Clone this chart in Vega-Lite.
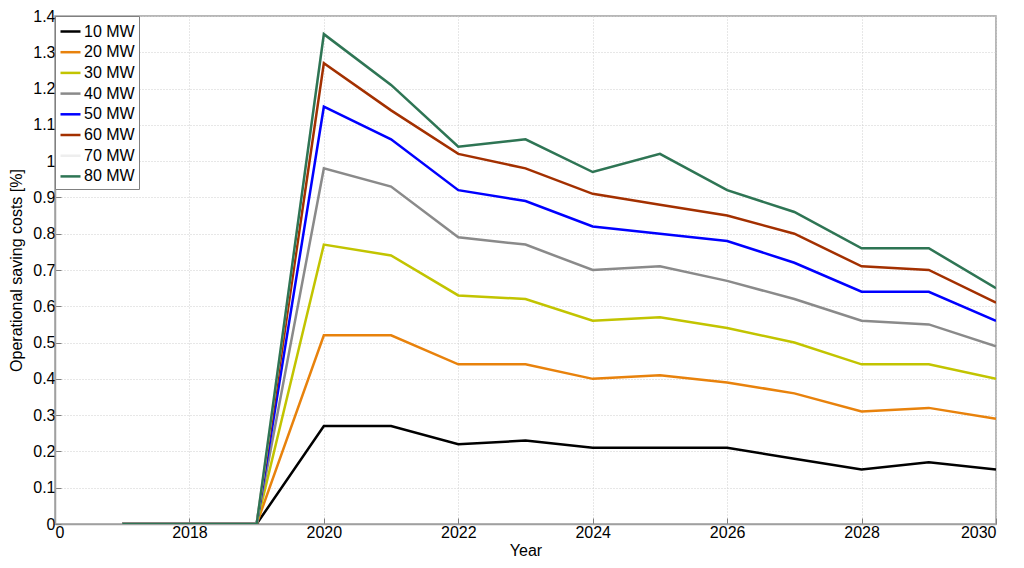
{
  "$schema": "https://vega.github.io/schema/vega-lite/v6.json",
  "autosize": "none",
  "width": 941,
  "height": 508,
  "padding": {"left": 55, "top": 16, "right": 28, "bottom": 44},
  "background": "white",
  "config": {
    "font": "Liberation Sans",
    "view": {"stroke": "#a0a0a0", "strokeWidth": 1.5},
    "axis": {
      "labelFont": "Liberation Sans",
      "titleFont": "Liberation Sans",
      "labelFontSize": 16,
      "titleFontSize": 16,
      "titleFontWeight": "normal",
      "labelColor": "#000000",
      "titleColor": "#000000",
      "domainColor": "#a0a0a0",
      "domainWidth": 1.5,
      "tickColor": "#808080",
      "tickSize": -6,
      "gridColor": "#cfcfcf",
      "gridDash": [1, 2],
      "gridWidth": 1
    }
  },
  "data": {
    "values": [
      {"year": 2017, "series": "10 MW", "value": 0}, {"year": 2018, "series": "10 MW", "value": 0}, {"year": 2019, "series": "10 MW", "value": 0},
      {"year": 2020, "series": "10 MW", "value": 0.27}, {"year": 2021, "series": "10 MW", "value": 0.27}, {"year": 2022, "series": "10 MW", "value": 0.22},
      {"year": 2023, "series": "10 MW", "value": 0.23}, {"year": 2024, "series": "10 MW", "value": 0.21}, {"year": 2025, "series": "10 MW", "value": 0.21},
      {"year": 2026, "series": "10 MW", "value": 0.21}, {"year": 2027, "series": "10 MW", "value": 0.18}, {"year": 2028, "series": "10 MW", "value": 0.15},
      {"year": 2029, "series": "10 MW", "value": 0.17}, {"year": 2030, "series": "10 MW", "value": 0.15},

      {"year": 2017, "series": "20 MW", "value": 0}, {"year": 2018, "series": "20 MW", "value": 0}, {"year": 2019, "series": "20 MW", "value": 0},
      {"year": 2020, "series": "20 MW", "value": 0.52}, {"year": 2021, "series": "20 MW", "value": 0.52}, {"year": 2022, "series": "20 MW", "value": 0.44},
      {"year": 2023, "series": "20 MW", "value": 0.44}, {"year": 2024, "series": "20 MW", "value": 0.40}, {"year": 2025, "series": "20 MW", "value": 0.41},
      {"year": 2026, "series": "20 MW", "value": 0.39}, {"year": 2027, "series": "20 MW", "value": 0.36}, {"year": 2028, "series": "20 MW", "value": 0.31},
      {"year": 2029, "series": "20 MW", "value": 0.32}, {"year": 2030, "series": "20 MW", "value": 0.29},

      {"year": 2017, "series": "30 MW", "value": 0}, {"year": 2018, "series": "30 MW", "value": 0}, {"year": 2019, "series": "30 MW", "value": 0},
      {"year": 2020, "series": "30 MW", "value": 0.77}, {"year": 2021, "series": "30 MW", "value": 0.74}, {"year": 2022, "series": "30 MW", "value": 0.63},
      {"year": 2023, "series": "30 MW", "value": 0.62}, {"year": 2024, "series": "30 MW", "value": 0.56}, {"year": 2025, "series": "30 MW", "value": 0.57},
      {"year": 2026, "series": "30 MW", "value": 0.54}, {"year": 2027, "series": "30 MW", "value": 0.50}, {"year": 2028, "series": "30 MW", "value": 0.44},
      {"year": 2029, "series": "30 MW", "value": 0.44}, {"year": 2030, "series": "30 MW", "value": 0.40},

      {"year": 2017, "series": "40 MW", "value": 0}, {"year": 2018, "series": "40 MW", "value": 0}, {"year": 2019, "series": "40 MW", "value": 0},
      {"year": 2020, "series": "40 MW", "value": 0.98}, {"year": 2021, "series": "40 MW", "value": 0.93}, {"year": 2022, "series": "40 MW", "value": 0.79},
      {"year": 2023, "series": "40 MW", "value": 0.77}, {"year": 2024, "series": "40 MW", "value": 0.70}, {"year": 2025, "series": "40 MW", "value": 0.71},
      {"year": 2026, "series": "40 MW", "value": 0.67}, {"year": 2027, "series": "40 MW", "value": 0.62}, {"year": 2028, "series": "40 MW", "value": 0.56},
      {"year": 2029, "series": "40 MW", "value": 0.55}, {"year": 2030, "series": "40 MW", "value": 0.49},

      {"year": 2017, "series": "50 MW", "value": 0}, {"year": 2018, "series": "50 MW", "value": 0}, {"year": 2019, "series": "50 MW", "value": 0},
      {"year": 2020, "series": "50 MW", "value": 1.15}, {"year": 2021, "series": "50 MW", "value": 1.06}, {"year": 2022, "series": "50 MW", "value": 0.92},
      {"year": 2023, "series": "50 MW", "value": 0.89}, {"year": 2024, "series": "50 MW", "value": 0.82}, {"year": 2025, "series": "50 MW", "value": 0.80},
      {"year": 2026, "series": "50 MW", "value": 0.78}, {"year": 2027, "series": "50 MW", "value": 0.72}, {"year": 2028, "series": "50 MW", "value": 0.64},
      {"year": 2029, "series": "50 MW", "value": 0.64}, {"year": 2030, "series": "50 MW", "value": 0.56},

      {"year": 2017, "series": "60 MW", "value": 0}, {"year": 2018, "series": "60 MW", "value": 0}, {"year": 2019, "series": "60 MW", "value": 0},
      {"year": 2020, "series": "60 MW", "value": 1.27}, {"year": 2021, "series": "60 MW", "value": 1.14}, {"year": 2022, "series": "60 MW", "value": 1.02},
      {"year": 2023, "series": "60 MW", "value": 0.98}, {"year": 2024, "series": "60 MW", "value": 0.91}, {"year": 2025, "series": "60 MW", "value": 0.88},
      {"year": 2026, "series": "60 MW", "value": 0.85}, {"year": 2027, "series": "60 MW", "value": 0.80}, {"year": 2028, "series": "60 MW", "value": 0.71},
      {"year": 2029, "series": "60 MW", "value": 0.70}, {"year": 2030, "series": "60 MW", "value": 0.61},

      {"year": 2017, "series": "70 MW", "value": 0}, {"year": 2018, "series": "70 MW", "value": 0}, {"year": 2019, "series": "70 MW", "value": 0},
      {"year": 2020, "series": "70 MW", "value": 1.35}, {"year": 2021, "series": "70 MW", "value": 1.21}, {"year": 2022, "series": "70 MW", "value": 1.04},
      {"year": 2023, "series": "70 MW", "value": 1.06}, {"year": 2024, "series": "70 MW", "value": 0.97}, {"year": 2025, "series": "70 MW", "value": 1.02},
      {"year": 2026, "series": "70 MW", "value": 0.92}, {"year": 2027, "series": "70 MW", "value": 0.86}, {"year": 2028, "series": "70 MW", "value": 0.76},
      {"year": 2029, "series": "70 MW", "value": 0.76}, {"year": 2030, "series": "70 MW", "value": 0.65},

      {"year": 2017, "series": "80 MW", "value": 0}, {"year": 2018, "series": "80 MW", "value": 0}, {"year": 2019, "series": "80 MW", "value": 0},
      {"year": 2020, "series": "80 MW", "value": 1.35}, {"year": 2021, "series": "80 MW", "value": 1.21}, {"year": 2022, "series": "80 MW", "value": 1.04},
      {"year": 2023, "series": "80 MW", "value": 1.06}, {"year": 2024, "series": "80 MW", "value": 0.97}, {"year": 2025, "series": "80 MW", "value": 1.02},
      {"year": 2026, "series": "80 MW", "value": 0.92}, {"year": 2027, "series": "80 MW", "value": 0.86}, {"year": 2028, "series": "80 MW", "value": 0.76},
      {"year": 2029, "series": "80 MW", "value": 0.76}, {"year": 2030, "series": "80 MW", "value": 0.65}
    ]
  },
  "mark": {"type": "line", "strokeWidth": 2.5, "clip": true},
  "encoding": {
    "x": {
      "field": "year",
      "type": "quantitative",
      "scale": {"domain": [2016, 2030], "nice": false, "zero": false},
      "axis": {
        "title": "Year",
        "values": [2016, 2018, 2020, 2022, 2024, 2026, 2028, 2030],
        "labelExpr": "datum.value == 2016 ? '0' : datum.value",
        "labelPadding": 6,
        "titlePadding": 2,
        "titleAnchor": "middle"
      }
    },
    "y": {
      "field": "value",
      "type": "quantitative",
      "scale": {"domain": [0, 1.4], "nice": false},
      "axis": {
        "title": "Operational saving costs [%]",
        "values": [0, 0.1, 0.2, 0.3, 0.4, 0.5, 0.6, 0.7, 0.8, 0.9, 1, 1.1, 1.2, 1.3, 1.4],
        "format": ".1~f",
        "labelPadding": 6,
        "titlePadding": 8
      }
    },
    "color": {
      "field": "series",
      "type": "nominal",
      "scale": {
        "domain": ["10 MW", "20 MW", "30 MW", "40 MW", "50 MW", "60 MW", "70 MW", "80 MW"],
        "range": ["#000000", "#e8820c", "#c2c400", "#8a8a8a", "#0000ff", "#a33000", "#eeeeee", "#2e7554"]
      },
      "legend": {
        "title": null,
        "orient": "top-left",
        "offset": 0,
        "symbolType": "stroke",
        "symbolStrokeWidth": 2.5,
        "symbolSize": 400,
        "labelFontSize": 16,
        "labelColor": "#000000",
        "labelFont": "Liberation Sans",
        "labelOffset": 2,
        "rowPadding": 0.7,
        "padding": 4,
        "fillColor": "white",
        "strokeColor": "#808080"
      }
    }
  }
}
